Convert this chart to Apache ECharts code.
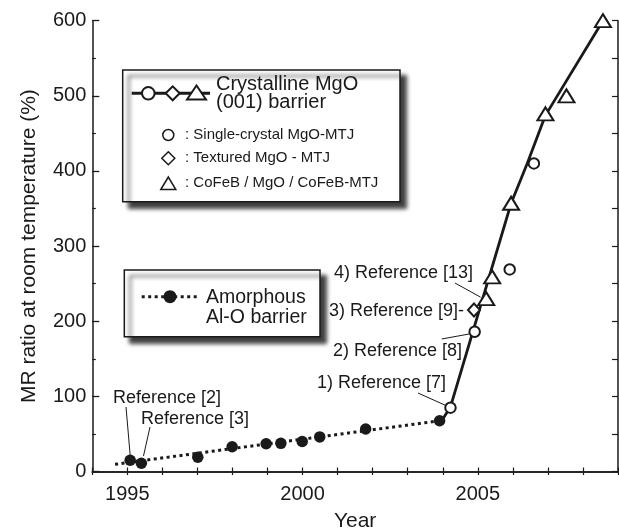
<!DOCTYPE html>
<html><head><meta charset="utf-8">
<script src="https://cdn.jsdelivr.net/npm/echarts@6/dist/echarts.min.js"></script>
<style>html,body{margin:0;padding:0;background:#fff}#c{width:619px;height:532px}</style>
</head><body><div id="c"></div>
<script>
// ---- data ----
const xTickLabels = ['1995', '2000', '2005'];
const yTickLabels = ['0', '100', '200', '300', '400', '500', '600'];

// Amorphous Al-O barrier (filled circles)
const alYears  = [1995.08, 1995.40, 1997.01, 1997.99, 1998.96, 1999.38, 1999.99, 2000.49, 2001.80, 2003.91];
const alValues = [15, 11, 19, 33, 37, 37.5, 40, 46, 56.5, 67.5];
// dotted trend line of Al-O
const alTrendYears  = [1994.65, 2003.91];
const alTrendValues = [9.6, 67.5];

// Crystalline MgO(001) barrier
const scYears  = [2004.22, 2004.91, 2005.91, 2006.60];   // single-crystal (open circles)
const scValues = [85, 186, 269, 410];
const txYears  = [2004.89];                              // textured (diamond)
const txValues = [215];
const cfYears  = [2005.24, 2005.41, 2005.95, 2006.93, 2007.53, 2008.57]; // CoFeB/MgO/CoFeB (triangles)
const cfValues = [230, 259, 357, 476, 500, 600];
// solid MgO trend line
const mgTrendYears  = [2004.0, 2004.22, 2005.95, 2006.41, 2006.93, 2008.57];
const mgTrendValues = [70, 86, 357, 410, 474, 600];

// annotations: text and the data point that the leader line touches
const annTexts  = ['Reference [2]', 'Reference [3]', '1) Reference [7]', '2) Reference [8]', '3) Reference [9]-', '4) Reference [13]'];
const annTarget = [[1995.08, 22], [1995.46, 20.5], [2004.08, 88], [2004.75, 183], null, [2005.08, 232]];

// ---- layout (pixels) ----
const annLayout = [
  {x: 113, y: 398, lx: 126, ly: 407},
  {x: 141, y: 419.5, lx: 150, ly: 427},
  {x: 317, y: 383, lx: 418, ly: 393},
  {x: 333, y: 351, lx: 441.7, ly: 339},
  {x: 329, y: 311},
  {x: 334, y: 273, lx: 455, ly: 283}
];

const FONT = '"Liberation Sans", Arial, Helvetica, sans-serif';
const INK = '#1a1a1a';
const pairs = (xs, ys) => xs.map((x, i) => [x, ys[i]]);

const chart = echarts.init(document.getElementById('c'), null, {renderer: 'canvas'});

const axisLineStyle = {color: INK, width: 1.5};
const option = {
  animation: false,
  backgroundColor: '#fff',
  grid: {left: 92.3, right: 1, top: 20.7, bottom: 60.5, containLabel: false, outerBoundsMode: 'none'},
  xAxis: [
    {
      type: 'value', min: 1994, max: 2009, interval: 1, position: 'bottom',
      axisLine: {show: true, lineStyle: axisLineStyle},
      axisTick: {show: true, inside: true, length: 4, lineStyle: {color: INK, width: 1.2}},
      axisLabel: {
        formatter: v => (xTickLabels.indexOf(String(v)) >= 0 ? String(v) : ''),
        fontSize: 20, color: INK, fontFamily: FONT, margin: 13
      },
      splitLine: {show: false},
      name: 'Year', nameLocation: 'middle', nameGap: 39,
      nameTextStyle: {fontSize: 21, color: INK, fontFamily: FONT}
    },
    {
      type: 'value', min: 1994, max: 2009, interval: 1, position: 'top',
      axisLine: {show: true, lineStyle: axisLineStyle},
      axisTick: {show: true, inside: true, length: 3.5, lineStyle: {color: INK, width: 1.2}},
      axisLabel: {show: false}, splitLine: {show: false}
    }
  ],
  yAxis: [
    {
      type: 'value', min: 0, max: 600, interval: 100, position: 'left',
      axisLine: {show: true, lineStyle: axisLineStyle},
      axisTick: {show: true, inside: true, length: 7, lineStyle: {color: INK, width: 1.3}},
      minorTick: {show: true, splitNumber: 2, length: 3.5, lineStyle: {color: INK, width: 1.2}},
      axisLabel: {
        formatter: v => (yTickLabels.indexOf(String(v)) >= 0 ? String(v) : ''),
        fontSize: 20, color: INK, fontFamily: FONT, margin: 6
      },
      splitLine: {show: false}, minorSplitLine: {show: false},
      name: 'MR ratio at room temperature (%)', nameLocation: 'middle', nameGap: 53,
      nameTextStyle: {fontSize: 21, color: INK, fontFamily: FONT}
    },
    {
      type: 'value', min: 0, max: 600, interval: 50, position: 'right',
      axisLine: {show: true, lineStyle: axisLineStyle},
      axisTick: {show: true, inside: true, length: 6, lineStyle: {color: INK, width: 1.2}},
      axisLabel: {show: false}, splitLine: {show: false}
    }
  ],
  series: [
    {
      name: 'Al-O trend', type: 'line', data: pairs(alTrendYears, alTrendValues),
      symbol: 'none', silent: true, z: 2,
      lineStyle: {color: INK, width: 3, type: [3, 3.5], cap: 'butt', opacity: 1}
    },
    {
      name: 'MgO trend', type: 'line', data: pairs(mgTrendYears, mgTrendValues),
      symbol: 'none', silent: true, z: 2,
      lineStyle: {color: INK, width: 2.8, join: 'round', opacity: 1}
    },
    {
      name: 'Amorphous Al-O', type: 'scatter', data: pairs(alYears, alValues),
      symbol: 'circle', symbolSize: 11.5, silent: true, z: 3,
      itemStyle: {color: INK, opacity: 1}
    },
    {
      name: 'Single-crystal', type: 'scatter', data: pairs(scYears, scValues),
      symbol: 'circle', symbolSize: 10.5, silent: true, z: 4,
      itemStyle: {color: '#fff', borderColor: INK, borderWidth: 2, opacity: 1}
    },
    {
      name: 'Textured', type: 'scatter', data: pairs(txYears, txValues),
      symbol: 'diamond', symbolSize: [12, 13], silent: true, z: 4,
      itemStyle: {color: '#fff', borderColor: INK, borderWidth: 2, opacity: 1}
    },
    {
      name: 'CoFeB', type: 'scatter', data: pairs(cfYears, cfValues),
      symbol: 'triangle', symbolSize: [16, 13], silent: true, z: 4,
      itemStyle: {color: '#fff', borderColor: INK, borderWidth: 2, opacity: 1}
    }
  ]
};
chart.setOption(option);

// ---- legend boxes and annotations ----
const g = [];
const boxStyle = {fill: '#fff', stroke: INK, lineWidth: 1.5, shadowBlur: 4, shadowOffsetX: 6, shadowOffsetY: 6, shadowColor: 'rgba(0,0,0,0.75)'};
function txt(s, x, y, size, align) {
  g.push({type: 'text', x: x, y: y, z: 20, silent: true,
    style: {text: s, x: 0, y: 0, fill: INK, font: size + 'px ' + FONT, textAlign: align || 'left', textVerticalAlign: 'middle', verticalAlign: 'middle'}});
}
function circ(cx, cy, r, fill, lw) {
  g.push({type: 'circle', z: 21, silent: true, shape: {cx: cx, cy: cy, r: r}, style: {fill: fill, stroke: INK, lineWidth: lw}});
}
function poly(points, lw) {
  g.push({type: 'polygon', z: 21, silent: true, shape: {points: points}, style: {fill: '#fff', stroke: INK, lineWidth: lw}});
}
function seg(x1, y1, x2, y2, lw, dash) {
  const st = {stroke: INK, lineWidth: lw};
  if (dash) { st.lineDash = dash; }
  g.push({type: 'line', z: 20, silent: true, shape: {x1: x1, y1: y1, x2: x2, y2: y2}, style: st});
}

// Box 1: crystalline MgO
g.push({type: 'rect', z: 19, silent: true, shape: {x: 122.7, y: 70, width: 277.3, height: 131.7}, style: boxStyle});
seg(131.7, 93.3, 210, 93.3, 3);
circ(148.3, 93.3, 6.3, '#fff', 2);
poly([[165.7, 93.3], [172.7, 86.3], [179.7, 93.3], [172.7, 100.3]], 2);
poly([[187, 99.5], [196.5, 85.5], [206, 99.5]], 2);
txt('Crystalline MgO', 216, 84.3, 20);
txt('(001) barrier', 216, 102, 20);
circ(168.3, 135, 5.5, '#fff', 1.5);
txt(': Single-crystal MgO-MTJ', 185, 135, 15);
poly([[161.8, 158.3], [168.3, 151.8], [174.8, 158.3], [168.3, 164.8]], 1.5);
txt(': Textured MgO - MTJ', 185, 158.3, 15);
poly([[160.8, 189.5], [168.3, 177], [175.8, 189.5]], 1.5);
txt(': CoFeB / MgO / CoFeB-MTJ', 185, 183.3, 15);

// Box 2: amorphous Al-O
g.push({type: 'rect', z: 19, silent: true, shape: {x: 124.3, y: 270, width: 195.7, height: 66.7}, style: boxStyle});
seg(141.7, 296.7, 196.7, 296.7, 3, [3, 3.5]);
circ(170, 296.7, 6.5, INK, 0);
txt('Amorphous', 206, 297.5, 19.5);
txt('Al-O barrier', 206, 317.5, 19.5);

// annotations
annTexts.forEach((s, i) => {
  const L = annLayout[i];
  txt(s, L.x, L.y, 18);
  if (annTarget[i]) {
    const p = chart.convertToPixel({xAxisIndex: 0, yAxisIndex: 0}, annTarget[i]);
    seg(L.lx, L.ly, p[0], p[1], 1);
  }
});

chart.setOption({graphic: {elements: g}});
</script>
</body></html>
